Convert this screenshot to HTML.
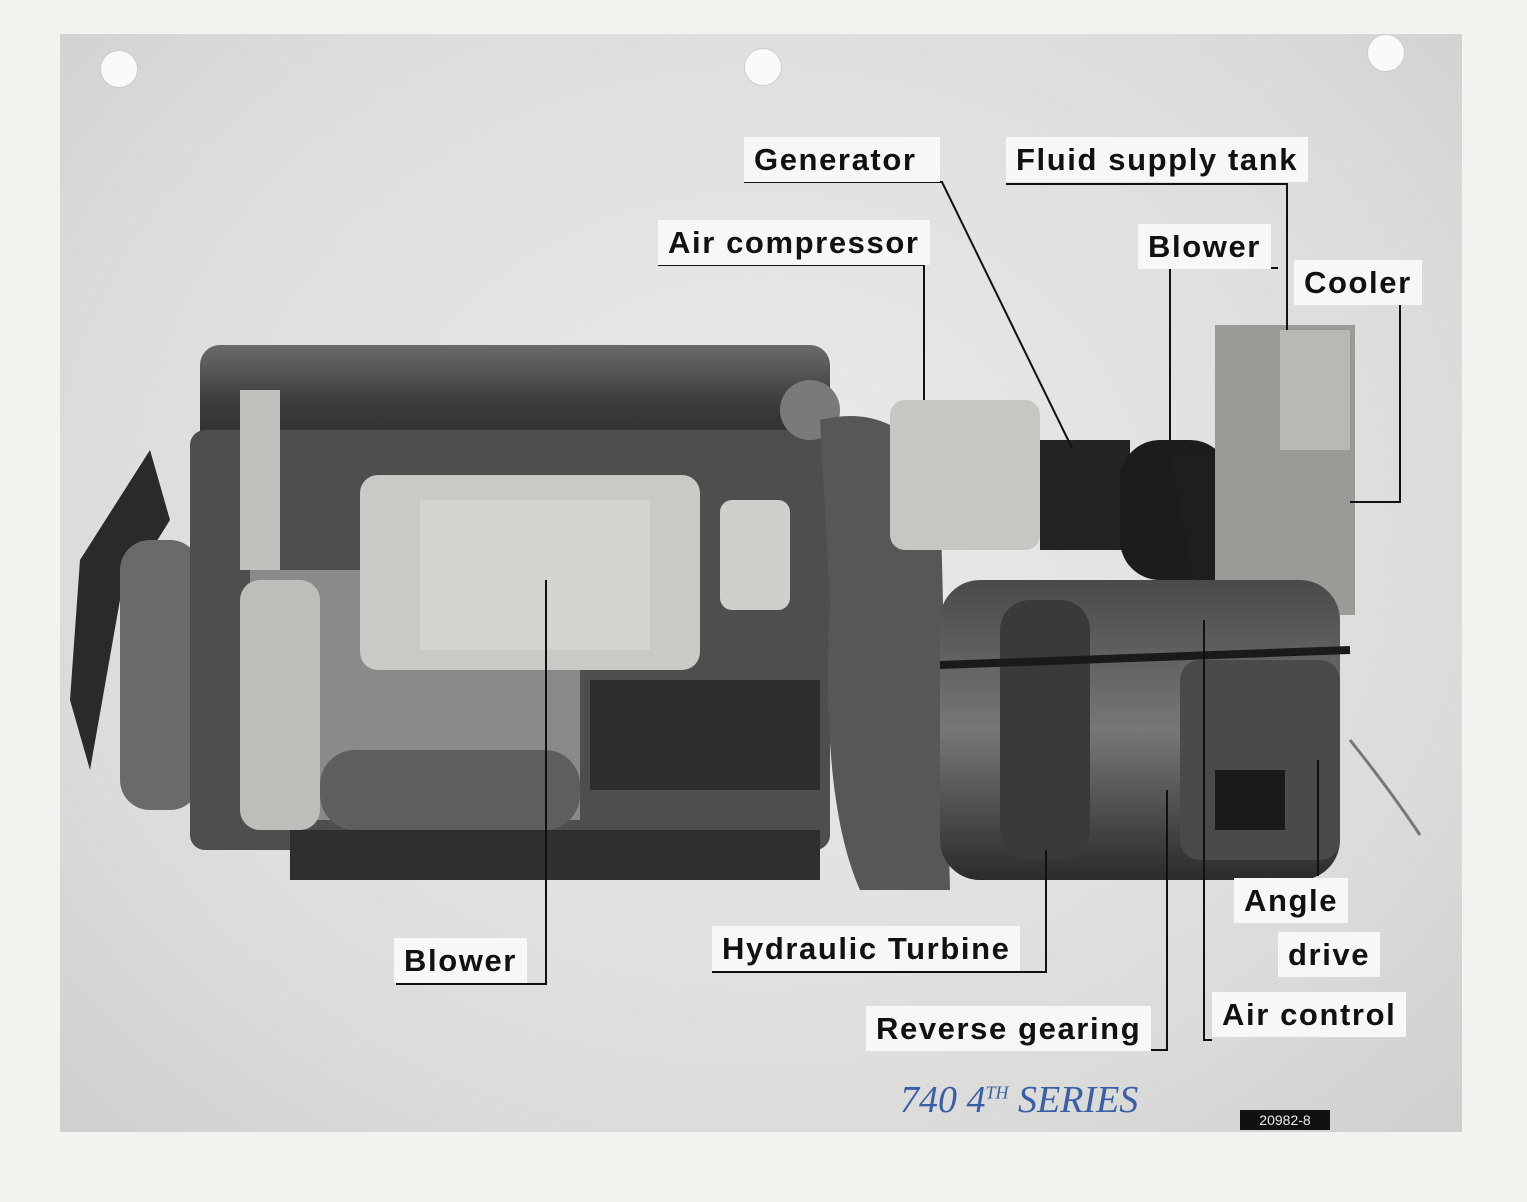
<!DOCTYPE html>
<html><head><meta charset="utf-8">
<style>
html,body{margin:0;padding:0;}
body{width:1527px;height:1202px;background:#f3f2ef;position:relative;overflow:hidden;font-family:"Liberation Sans",sans-serif;}
.photo{position:absolute;left:60px;top:34px;width:1402px;height:1098px;background:radial-gradient(ellipse at 50% 45%,#ebebea 0%,#dcdcdb 70%,#cfcfce 100%);}
.lbl{position:absolute;background:#f7f7f5;font-weight:bold;color:#111;font-size:31px;line-height:1;padding:7px 10px;white-space:nowrap;letter-spacing:1.6px;}
svg{position:absolute;left:0;top:0;}
.hole{position:absolute;width:36px;height:36px;border-radius:50%;background:#fafafa;border:1px solid #ccc;}
</style></head><body>
<div class="photo"></div>
<div class="hole" style="left:100px;top:50px"></div>
<div class="hole" style="left:744px;top:48px"></div>
<div class="hole" style="left:1367px;top:34px"></div>
<svg width="1527" height="1202" viewBox="0 0 1527 1202">
<defs>
<linearGradient id="g1" x1="0" y1="0" x2="0" y2="1"><stop offset="0" stop-color="#6a6a68"/><stop offset="0.5" stop-color="#3a3a39"/><stop offset="1" stop-color="#2a2a2a"/></linearGradient>
<linearGradient id="g2" x1="0" y1="0" x2="0" y2="1"><stop offset="0" stop-color="#4a4a49"/><stop offset="0.5" stop-color="#777"/><stop offset="1" stop-color="#2b2b2b"/></linearGradient>
</defs>
<path d="M80 560 L150 450 L170 520 L120 600 L90 770 L70 700 Z" fill="#2a2a2a"/>
<rect x="120" y="540" width="80" height="270" rx="30" fill="#6a6a68"/>
<rect x="200" y="345" width="630" height="120" rx="20" fill="url(#g1)"/>
<rect x="190" y="430" width="640" height="420" rx="15" fill="#4e4e4d"/>
<rect x="250" y="570" width="330" height="250" fill="#8a8a88"/>
<rect x="290" y="830" width="530" height="50" fill="#2f2f2f"/>
<rect x="320" y="750" width="260" height="80" rx="35" fill="#5e5e5c"/>
<rect x="590" y="680" width="230" height="110" fill="#2e2e2e"/>
<rect x="360" y="475" width="340" height="195" rx="18" fill="#c9c9c6"/>
<rect x="420" y="500" width="230" height="150" fill="#d4d4d1"/>
<rect x="240" y="390" width="40" height="180" fill="#c0c0bd"/>
<rect x="240" y="580" width="80" height="250" rx="20" fill="#bdbdba"/>
<rect x="720" y="500" width="70" height="110" rx="12" fill="#cfcfcc"/>
<circle cx="810" cy="410" r="30" fill="#7a7a78"/>
<path d="M820 420 Q900 400 940 480 L950 890 L860 890 Q820 800 830 600 Z" fill="#575756"/>
<rect x="890" y="400" width="150" height="150" rx="15" fill="#c6c6c3"/>
<rect x="1040" y="440" width="90" height="110" fill="#232323"/>
<rect x="1120" y="440" width="110" height="140" rx="40" fill="#1c1c1c"/>
<path d="M1170 455 L1260 450 L1300 610 L1200 610 Z" fill="#1e1e1e"/>
<rect x="1215" y="325" width="140" height="290" fill="#9a9a97"/>
<rect x="1280" y="330" width="70" height="120" fill="#b8b8b5"/>
<rect x="940" y="580" width="400" height="300" rx="40" fill="url(#g2)"/>
<rect x="1000" y="600" width="90" height="260" rx="30" fill="#3a3a3a"/>
<rect x="1180" y="660" width="160" height="200" rx="20" fill="#4a4a49"/>
<rect x="1215" y="770" width="70" height="60" fill="#1a1a1a"/>
<path d="M940 665 L1350 650" stroke="#1a1a1a" stroke-width="8" fill="none"/>
<path d="M1350 740 Q1390 790 1420 835" stroke="#777" stroke-width="3" fill="none"/>
<g stroke="#111" stroke-width="2" fill="none">
<path d="M744 182 L942 182 L1072 448"/>
<path d="M1006 184 L1287 184 L1287 330"/>
<path d="M658 265 L924 265 L924 400"/>
<path d="M1278 268 L1170 268 L1170 440"/>
<path d="M1294 302 L1400 302 L1400 502 L1350 502"/>
<path d="M396 984 L546 984 L546 580"/>
<path d="M712 972 L1046 972 L1046 850"/>
<path d="M866 1050 L1167 1050 L1167 790"/>
<path d="M1212 1040 L1204 1040 L1204 620"/>
<path d="M1318 876 L1318 760"/>
</g>
</svg>
<div class="lbl" style="left:744px;top:137px;width:176px">Generator</div>
<div class="lbl" style="left:1006px;top:137px">Fluid supply tank</div>
<div class="lbl" style="left:658px;top:220px">Air compressor</div>
<div class="lbl" style="left:1138px;top:224px">Blower</div>
<div class="lbl" style="left:1294px;top:260px">Cooler</div>
<div class="lbl" style="left:394px;top:938px">Blower</div>
<div class="lbl" style="left:712px;top:926px">Hydraulic Turbine</div>
<div class="lbl" style="left:1234px;top:878px">Angle</div>
<div class="lbl" style="left:1278px;top:932px">drive</div>
<div class="lbl" style="left:1212px;top:992px">Air control</div>
<div class="lbl" style="left:866px;top:1006px">Reverse gearing</div>
<div style="position:absolute;left:900px;top:1078px;font-family:'Liberation Serif',serif;font-style:italic;color:#3a5fa8;font-size:38px;">740 4<sup style="font-size:18px">TH</sup> SERIES</div>
<div style="position:absolute;left:1240px;top:1110px;width:90px;height:20px;background:#111;color:#eee;font-size:14px;text-align:center;line-height:20px;">20982-8</div>
</body></html>
